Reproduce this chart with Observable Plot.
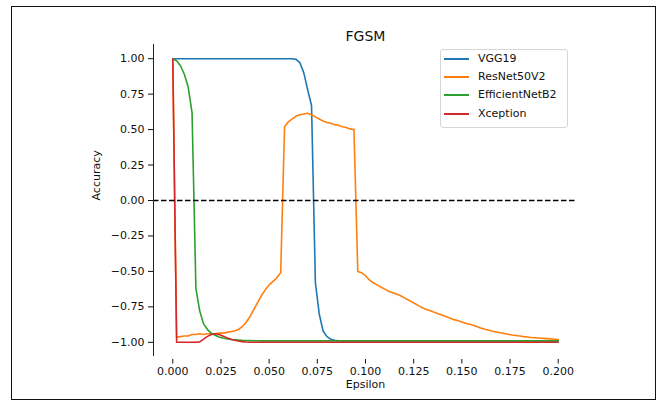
<!DOCTYPE html>
<html>
<head>
<meta charset="utf-8">
<script src="https://cdn.jsdelivr.net/npm/d3@7"></script>
<script src="https://cdn.jsdelivr.net/npm/@observablehq/plot@0.6"></script>
<style>
  body { margin: 0; background: white; }
  #wrap { position: relative; width: 659px; height: 403px; font-family: "DejaVu Sans", sans-serif; overflow: hidden; }
  #wrap > svg { position: absolute; left: 0; top: 0; }
  #frame { position: absolute; left: 11px; top: 6px; width: 643px; height: 392px; border: 1px solid #111; pointer-events: none; }
  #legend { position: absolute; left: 440px; top: 49px; width: 126px; height: 77px; border: 1px solid #d6d6d6; border-radius: 3px; background: rgba(255,255,255,0.8); font-size: 11px; color: #111; }
  .row { position: absolute; left: 0; height: 14px; }
  .sw { position: absolute; left: 3px; top: -1px; width: 25px; height: 2px; }
  .lb { position: absolute; left: 37px; top: -7px; white-space: nowrap; line-height: 14px; }
</style>
</head>
<body>
<div id="wrap"></div>
<script>
// Data
const title = "FGSM";
const xLabel = "Epsilon";
const yLabel = "Accuracy";
const models = ["VGG19", "ResNet50V2", "EfficientNetB2", "Xception"];
const colors = ["#1f77b4", "#ff7f0e", "#2ca02c", "#d62728"];
const xTicks = [0, 0.025, 0.05, 0.075, 0.1, 0.125, 0.15, 0.175, 0.2];
const yTicks = [-1, -0.75, -0.5, -0.25, 0, 0.25, 0.5, 0.75, 1];

const epsilon = [
  0.000,0.002,0.004,0.006,0.008,0.010,0.012,0.014,0.016,0.018,
  0.020,0.022,0.024,0.026,0.028,0.030,0.032,0.034,0.036,0.038,
  0.040,0.042,0.044,0.046,0.048,0.050,0.052,0.054,0.056,0.058,
  0.060,0.062,0.064,0.066,0.068,0.070,0.072,0.074,0.076,0.078,
  0.080,0.082,0.084,0.086,0.088,0.090,0.092,0.094,0.096,0.098,
  0.100,0.102,0.104,0.106,0.108,0.110,0.112,0.114,0.116,0.118,
  0.120,0.122,0.124,0.126,0.128,0.130,0.132,0.134,0.136,0.138,
  0.140,0.142,0.144,0.146,0.148,0.150,0.152,0.154,0.156,0.158,
  0.160,0.162,0.164,0.166,0.168,0.170,0.172,0.174,0.176,0.178,
  0.180,0.182,0.184,0.186,0.188,0.190,0.192,0.194,0.196,0.198,
  0.200
];

const vgg19 = [
  1,1,1,1,1,1,1,1,1,1,
  1,1,1,1,1,1,1,1,1,1,
  1,1,1,1,1,1,1,1,1,1,
  1,1,0.995,0.97,0.90,0.78,0.67,-0.58,-0.80,-0.92,
  -0.96,-0.978,-0.986,-0.99,-0.99,-0.99,-0.99,-0.99,-0.99,-0.99,
  -0.99,-0.99,-0.99,-0.99,-0.99,-0.99,-0.99,-0.99,-0.99,-0.99,
  -0.99,-0.99,-0.99,-0.99,-0.99,-0.99,-0.99,-0.99,-0.99,-0.99,
  -0.99,-0.99,-0.99,-0.99,-0.99,-0.99,-0.99,-0.99,-0.99,-0.99,
  -0.99,-0.99,-0.99,-0.99,-0.99,-0.99,-0.99,-0.99,-0.99,-0.99,
  -0.99,-0.99,-0.99,-0.99,-0.99,-0.99,-0.99,-0.99,-0.99,-0.99,
  -0.99
];

const resnet50v2 = [
  1.0,-0.965,-0.96,-0.955,-0.955,-0.945,-0.945,-0.94,-0.945,-0.94,
  -0.94,-0.94,-0.935,-0.935,-0.93,-0.925,-0.92,-0.91,-0.89,-0.86,
  -0.82,-0.77,-0.72,-0.67,-0.63,-0.595,-0.57,-0.545,-0.51,0.52,
  0.555,0.575,0.595,0.605,0.61,0.615,0.605,0.59,0.575,0.56,
  0.55,0.545,0.535,0.53,0.52,0.515,0.505,0.50,-0.50,-0.51,
  -0.53,-0.56,-0.58,-0.595,-0.61,-0.625,-0.64,-0.65,-0.66,-0.67,
  -0.685,-0.70,-0.715,-0.73,-0.745,-0.76,-0.77,-0.78,-0.79,-0.80,
  -0.81,-0.82,-0.83,-0.84,-0.848,-0.856,-0.865,-0.873,-0.88,-0.89,
  -0.90,-0.908,-0.915,-0.922,-0.928,-0.933,-0.938,-0.943,-0.948,-0.952,
  -0.956,-0.96,-0.963,-0.966,-0.968,-0.97,-0.972,-0.974,-0.976,-0.978,
  -0.98
];

const efficientnetb2 = [
  1.0,0.985,0.95,0.89,0.80,0.62,-0.62,-0.78,-0.87,-0.91,
  -0.935,-0.95,-0.962,-0.97,-0.975,-0.98,-0.982,-0.984,-0.986,-0.987,
  -0.988,-0.989,-0.989,-0.99,-0.99,-0.99,-0.99,-0.99,-0.99,-0.99,
  -0.99,-0.99,-0.99,-0.99,-0.99,-0.99,-0.99,-0.99,-0.99,-0.99,
  -0.99,-0.99,-0.99,-0.99,-0.99,-0.99,-0.99,-0.99,-0.99,-0.99,
  -0.99,-0.99,-0.99,-0.99,-0.99,-0.99,-0.99,-0.99,-0.99,-0.99,
  -0.99,-0.99,-0.99,-0.99,-0.99,-0.99,-0.99,-0.99,-0.99,-0.99,
  -0.99,-0.99,-0.99,-0.99,-0.99,-0.99,-0.99,-0.99,-0.99,-0.99,
  -0.99,-0.99,-0.99,-0.99,-0.99,-0.99,-0.99,-0.99,-0.99,-0.99,
  -0.99,-0.99,-0.99,-0.99,-0.99,-0.99,-0.99,-0.99,-0.99,-0.99,
  -0.99
];

const xception = [
  1.0,-1,-1,-1,-1,-1,-1,-0.997,-0.978,-0.958,
  -0.945,-0.94,-0.945,-0.955,-0.967,-0.977,-0.985,-0.991,-0.995,-0.998,
  -1,-1,-1,-1,-1,-1,-1,-1,-1,-1,
  -1,-1,-1,-1,-1,-1,-1,-1,-1,-1,
  -1,-1,-1,-1,-1,-1,-1,-1,-1,-1,
  -1,-1,-1,-1,-1,-1,-1,-1,-1,-1,
  -1,-1,-1,-1,-1,-1,-1,-1,-1,-1,
  -1,-1,-1,-1,-1,-1,-1,-1,-1,-1,
  -1,-1,-1,-1,-1,-1,-1,-1,-1,-1,
  -1,-1,-1,-1,-1,-1,-1,-1,-1,-1,
  -1
];

const seriesValues = [vgg19, resnet50v2, efficientnetb2, xception];
const tables = seriesValues.map((vals, k) =>
  epsilon.map((e, i) => ({eps: e, acc: vals[i], model: models[k]}))
);

const lineMarks = tables.map((t, k) =>
  Plot.line(t, {x: "eps", y: "acc", stroke: colors[k], strokeWidth: 1.6, strokeLinejoin: "round"})
);

const chart = Plot.plot({
  width: 659,
  height: 403,
  marginLeft: 153,
  marginRight: 82,
  marginTop: 44,
  marginBottom: 47,
  style: {fontFamily: "DejaVu Sans, sans-serif", fontSize: "11px", background: "white", color: "#111"},
  x: {domain: [-0.01, 0.21], label: null},
  y: {domain: [-1.1, 1.1], label: null},
  marks: [
    ...lineMarks,
    Plot.ruleY([0], {stroke: "black", strokeWidth: 1.5, strokeDasharray: "5.5,2.5"}),
    Plot.ruleX([-0.01], {stroke: "#222", strokeWidth: 1}),
    Plot.axisY({ticks: yTicks, tickFormat: d3.format(".2f"), tickSize: 5, tickPadding: 4, label: null}),
    Plot.axisX({ticks: xTicks, tickFormat: d3.format(".3f"), tickSize: 4.5, tickPadding: 3, dy: 3, label: null}),
    Plot.text([title], {text: d => d, frameAnchor: "top", dy: -13, fontSize: 14}),
    Plot.text([yLabel], {text: d => d, frameAnchor: "left", dx: -57, rotate: -90, fontSize: 11}),
    Plot.text([xLabel], {text: d => d, frameAnchor: "bottom", dy: 31, fontSize: 11})
  ]
});

const wrap = document.getElementById("wrap");
wrap.appendChild(chart);

const frame = document.createElement("div");
frame.id = "frame";
wrap.appendChild(frame);

const legend = document.createElement("div");
legend.id = "legend";
models.forEach((m, k) => {
  const row = document.createElement("div");
  row.className = "row";
  row.style.top = Math.round(9 + k * 18.2) + "px";
  const sw = document.createElement("div");
  sw.className = "sw";
  sw.style.background = colors[k];
  const lb = document.createElement("div");
  lb.className = "lb";
  lb.textContent = m;
  row.appendChild(sw);
  row.appendChild(lb);
  legend.appendChild(row);
});
wrap.appendChild(legend);
</script>
</body>
</html>
